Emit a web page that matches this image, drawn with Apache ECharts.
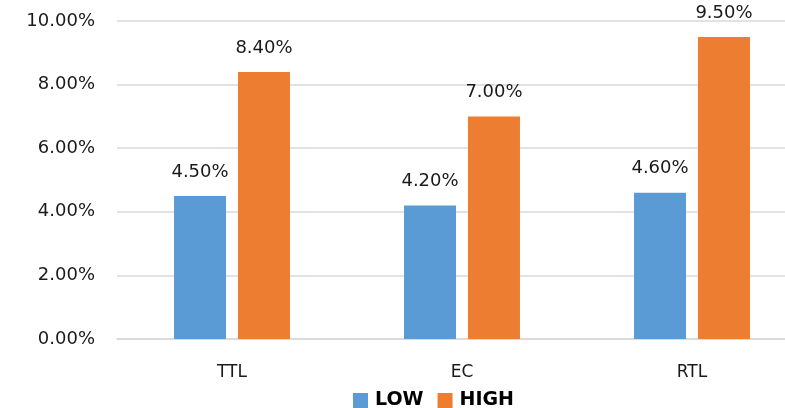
<!DOCTYPE html>
<html><head><meta charset="utf-8">
<script src="https://cdn.jsdelivr.net/npm/echarts@6/dist/echarts.min.js"></script>
<style>html,body{margin:0;padding:0;background:#fff;overflow:hidden}#c{width:810px;height:408px}</style>
</head><body><div id="c"></div>
<script>
const categories = ['TTL', 'EC', 'RTL'];
const lowValues = [4.5, 4.2, 4.6];
const highValues = [8.4, 7.0, 9.5];
const seriesNames = ['LOW', 'HIGH'];

const chart = echarts.init(document.getElementById('c'), null, {renderer: 'canvas'});
const pct = v => v.toFixed(2) + '%';
const labelCfg = {
  show: true, position: 'top', distance: 15,
  fontFamily: 'DejaVu Sans', fontSize: 18, color: '#1a1a1a',
  formatter: p => pct(p.value)
};
chart.setOption({
  animation: false,
  grid: {left: 117, top: 21, width: 690, height: 318, containLabel: false},
  legend: {
    data: seriesNames, top: 386, left: 348, itemWidth: 15, itemHeight: 15,
    itemGap: 14, icon: 'rect',
    textStyle: {fontFamily: 'DejaVu Sans', fontWeight: 'bold', fontSize: 19, color: '#000', padding: [0, 0, 0, 2]}
  },
  xAxis: {
    type: 'category', data: categories,
    axisLine: {lineStyle: {color: '#d9d9d9', width: 1.5}},
    axisTick: {show: false},
    axisLabel: {fontFamily: 'DejaVu Sans', fontSize: 17, color: '#1a1a1a', margin: 25}
  },
  yAxis: {
    type: 'value', min: 0, max: 10, interval: 2,
    axisLine: {show: false}, axisTick: {show: false},
    splitLine: {lineStyle: {color: '#d9d9d9', width: 1.5}},
    axisLabel: {fontFamily: 'DejaVu Sans', fontSize: 18, color: '#1a1a1a', margin: 22, formatter: v => v.toFixed(2) + '%'}
  },
  series: [
    {name: seriesNames[0], type: 'bar', data: lowValues, barWidth: 52, barGap: '23%',
     itemStyle: {color: '#5b9bd5'}, label: labelCfg},
    {name: seriesNames[1], type: 'bar', data: highValues, barWidth: 52,
     itemStyle: {color: '#ed7d31'}, label: labelCfg}
  ]
});
</script></body></html>
